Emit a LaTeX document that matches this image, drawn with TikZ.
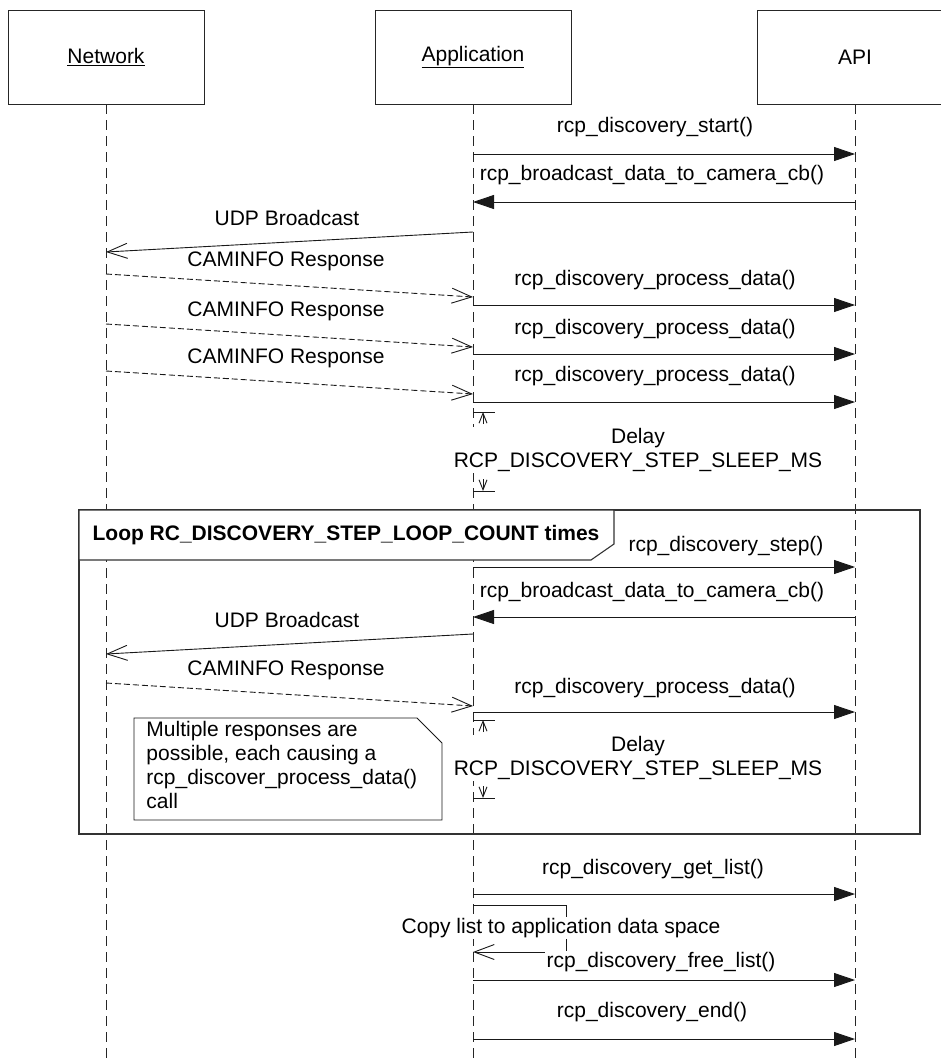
\documentclass[tikz,border=0pt]{standalone}
\usepackage{fontspec}
\setmainfont{Liberation Sans}
\usetikzlibrary{arrows.meta}

\begin{document}
\begin{tikzpicture}
  [x=1pt,y=-1pt,line width=0.9pt,
   font=\fontsize{21}{24}\selectfont,
   head/.style={draw=black!85,fill=white,minimum width=196pt,minimum height=94pt,inner sep=0pt},
   life/.style={draw=black!85,dash pattern=on 10pt off 6pt},
   call/.style={draw=black!90,-{Triangle[length=21pt,width=14pt]}},
   reply/.style={draw=black!90,-{Straight Barb[length=20pt,width=15pt]}},
   resp/.style={reply,dash pattern=on 6pt off 3pt},
   plain/.style={draw=black!90},
   lbl/.style={fill=white,inner sep=1.5pt},
   frame/.style={draw=black!80,line width=1.1pt}]

  \useasboundingbox (0,0) rectangle (941,1063);

  % lifeline heads
  \node[head] (net) at (106,57) {\underline{Network}};
  \node[head] (app) at (473,57) {\underline{Application}};
  \node[head] (api) at (855,57) {API};

  \coordinate (netend) at (106,1063);
  \coordinate (append) at (473,1063);
  \coordinate (apiend) at (855,1063);
  \draw[life] (net.south) -- (netend);
  \draw[life] (app.south) -- (append);
  \draw[life] (api.south) -- (apiend);

  % loop frame
  \draw[frame] (79,510) rectangle (920,834);
  \draw[frame,fill=white] (79,510) -- (614,510) -- (614,544) -- (591,560) -- (79,560) -- cycle;
  \node[font=\fontsize{21}{24}\selectfont\bfseries] (loop) at (346,535) {Loop RC\_DISCOVERY\_STEP\_LOOP\_COUNT times};

  % note
  \draw[plain,fill=white] (134,718) -- (417,718) -- (442,743) -- (442,820) -- (134,820) -- cycle;
  \node[anchor=north west,align=left,inner sep=0pt] (note) at (146,721)
    {Multiple responses are\\possible, each causing a\\rcp\_discover\_process\_data()\\call};

  % self message
  \coordinate (selfa) at (473,905);
  \coordinate (selfc) at (566,952);
  \coordinate (selfb) at (473,952);
  \draw[reply] (selfa) -| (selfc) -- (selfb);
  \node[lbl] (copy) at (561,928) {Copy list to application data space};

  % broadcasts to the network
  \foreach \n/\y in {udp1/232,udp2/634} {
    \coordinate (\n-a) at (473,\y);
    \coordinate (\n-b) at (106,{\y+20});
    \draw[reply] (\n-a) -- (\n-b);
    \node[lbl] (\n-l) at (287,{\y-14}) {UDP Broadcast};
  }

  % camera responses
  \foreach \n/\y in {cam1/274,cam2/324,cam3/371,cam4/683} {
    \coordinate (\n-a) at (106,\y);
    \coordinate (\n-b) at (473,{\y+23});
    \draw[resp] (\n-a) -- (\n-b);
    \node[lbl] (\n-l) at (286,{\y-13}) {CAMINFO Response};
  }

  % callbacks from the API
  \foreach \n/\y/\ly in {cb1/202/175,cb2/617/592} {
    \coordinate (\n-a) at (855,\y);
    \coordinate (\n-b) at (473,\y);
    \draw[call] (\n-a) -- (\n-b);
    \node[lbl] (\n-l) at (652,\ly) {rcp\_broadcast\_data\_to\_camera\_cb()};
  }

  % calls into the API
  \foreach \n/\y/\lx/\ly/\txt in {
      start/154/655/127/rcp\_discovery\_start(),
      proc1/305/655/280/rcp\_discovery\_process\_data(),
      proc2/354/655/329/rcp\_discovery\_process\_data(),
      proc3/402/655/376/rcp\_discovery\_process\_data(),
      step/567/726/546/rcp\_discovery\_step(),
      proc4/712/655/688/rcp\_discovery\_process\_data(),
      getl/894/653/869/rcp\_discovery\_get\_list(),
      freel/980/661/962/rcp\_discovery\_free\_list(),
      stop/1039/652/1012/rcp\_discovery\_end()} {
    \coordinate (\n-a) at (473,\y);
    \coordinate (\n-b) at (855,\y);
    \draw[call] (\n-a) -- (\n-b);
    \node[lbl] (\n-l) at (\lx,\ly) {\txt};
  }

  % delays
  \foreach \n/\t/\b in {dly1/412/491,dly2/720/798} {
    \coordinate (\n-t) at (473,\t);
    \coordinate (\n-b) at (473,\b);
    \draw[plain] (\n-t) -- ++(22,0);
    \draw[plain] (\n-b) -- ++(22,0);
    \draw[plain,-{Straight Barb[length=10pt,width=8pt]}] (483,{\t+12}) -- (483,\t);
    \draw[plain,-{Straight Barb[length=10pt,width=8pt]}] (483,{\b-12}) -- (483,\b);
    \node[lbl,align=center] (\n-l) at (638,{\t+38}) {Delay\\RCP\_DISCOVERY\_STEP\_SLEEP\_MS};
  }
\end{tikzpicture}
\end{document}
